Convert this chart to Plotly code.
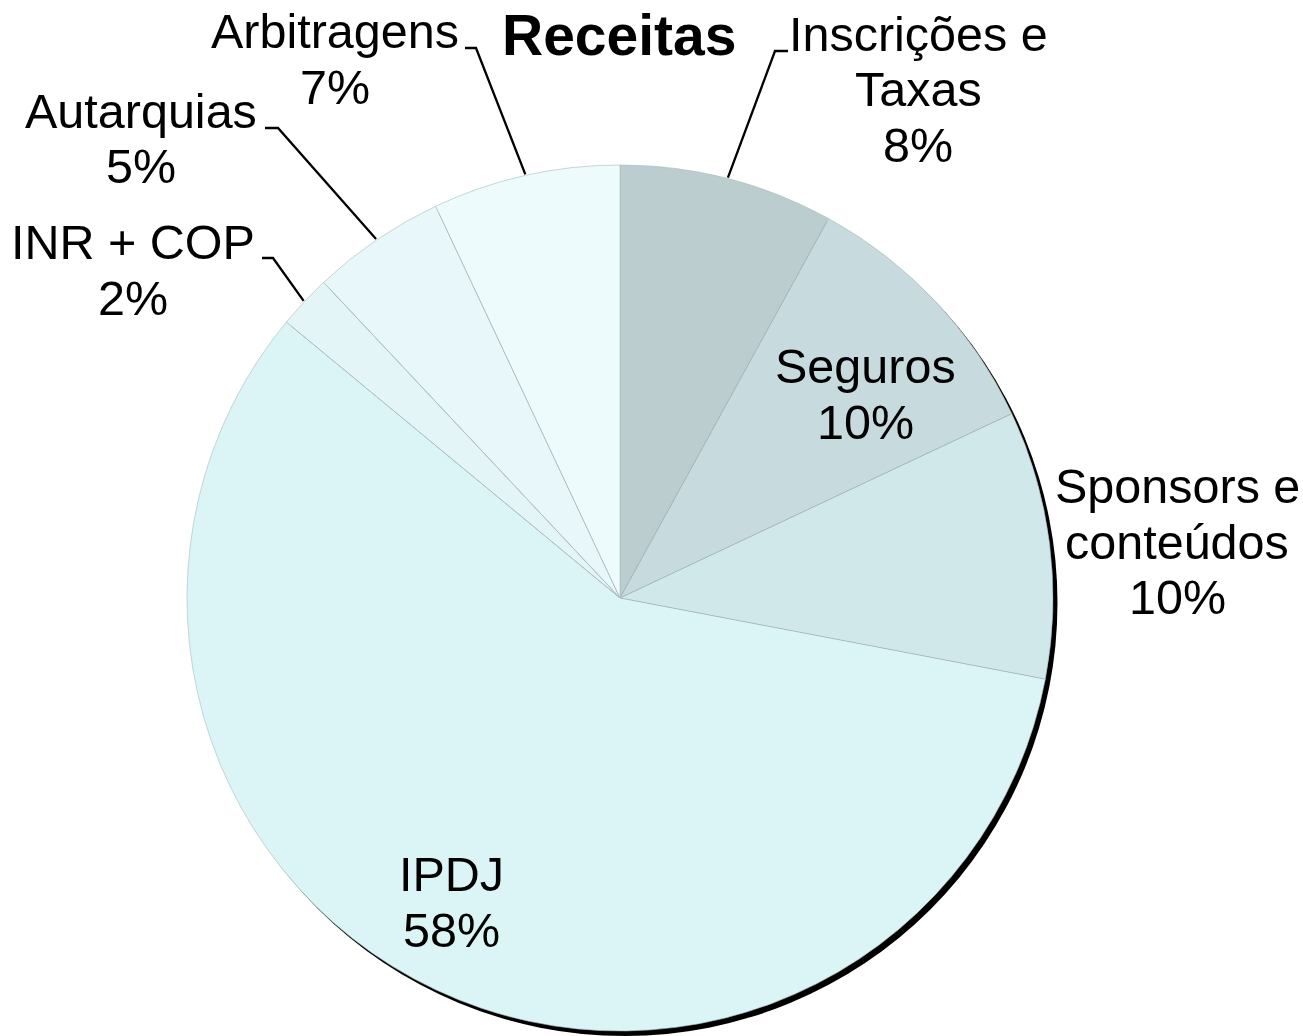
import math
import plotly.graph_objects as go

# ---------------- data ----------------
labels = ["Inscrições e Taxas", "Seguros", "Sponsors e conteúdos", "IPDJ",
          "INR + COP", "Autarquias", "Arbitragens"]
label_text = ["Inscrições e\nTaxas", "Seguros", "Sponsors e\nconteúdos", "IPDJ",
              "INR + COP", "Autarquias", "Arbitragens"]
values = [8, 10, 10, 58, 2, 5, 7]
colors = ["#bccdd0", "#c7dbde", "#d1e8eb", "#dbf5f7", "#e3f5f7", "#e8f7f9", "#eefbfc"]
title_text = "Receitas"

# ---------------- layout constants (pixels) ----------------
W, H = 1303, 1036
CX, CY, R = 620, 598, 433
FONT = "Liberation Sans, Arial, sans-serif"
FS = 48.5
LINE_STEP = 55.5
# label block: centre x, first line middle y
label_pos = [(918, 34), (865, 366), (1177, 486), (451, 874),
             (133, 242), (141, 111), (335, 31)]
# leader lines: index -> (text-side x, elbow x, y)
leaders = {0: (788, 775, 51), 6: (465, 476, 48), 5: (265, 278, 128), 4: (262, 273, 258)}


def px(x):
    return x / W


def py(y):
    return 1 - y / H


fig = go.Figure()
fig.add_trace(go.Pie(
    labels=labels, values=values, sort=False, direction="clockwise", rotation=0,
    marker=dict(colors=colors, line=dict(color="#aab8ba", width=0.6)),
    textinfo="none", textposition="none", hoverinfo="skip", showlegend=False,
    domain=dict(x=[px(CX - R), px(CX + R)], y=[py(CY + R), py(CY - R)]),
))

total = sum(values)
annotations = []
shapes = []

# shadow edge behind the pie
dx, dy = 4.5, 5
shapes.append(dict(type="circle", xref="paper", yref="paper", layer="below",
                   x0=px(CX - R + dx), x1=px(CX + R + dx),
                   y0=py(CY + R + dy), y1=py(CY - R + dy),
                   fillcolor="black", line=dict(width=0)))

cum = 0
for i, v in enumerate(values):
    mid = (cum + v / 2) / total * 360
    cum += v
    pct = f"{round(100 * v / total)}%"
    lines = label_text[i].split("\n") + [pct]
    lx, ly = label_pos[i]
    for k, t in enumerate(lines):
        annotations.append(dict(
            x=px(lx), y=py(ly + k * LINE_STEP), xref="paper", yref="paper",
            text=t, showarrow=False, xanchor="center", yanchor="middle",
            font=dict(family=FONT, size=FS, color="black")))
    if i in leaders:
        tx, ex, ey = leaders[i]
        a = math.radians(mid)
        ox = CX + (R + 1) * math.sin(a)
        oy = CY - (R + 1) * math.cos(a)
        path = (f"M {px(tx)} {py(ey)} L {px(ex)} {py(ey)} "
                f"L {px(ox)} {py(oy)}")
        shapes.append(dict(type="path", xref="paper", yref="paper", path=path,
                           line=dict(color="black", width=2.3)))

annotations.append(dict(
    x=px(619), y=py(35), xref="paper", yref="paper", text=f"<b>{title_text}</b>",
    showarrow=False, xanchor="center", yanchor="middle",
    font=dict(family=FONT, size=57, color="black")))

fig.update_layout(
    width=W, height=H, autosize=False,
    margin=dict(l=0, r=0, t=0, b=0),
    paper_bgcolor="white", plot_bgcolor="white",
    annotations=annotations, shapes=shapes, showlegend=False,
)

fig.write_html("out.html", config={"displayModeBar": False},
               post_script="document.body.style.margin='0';document.body.style.overflow='hidden';")
